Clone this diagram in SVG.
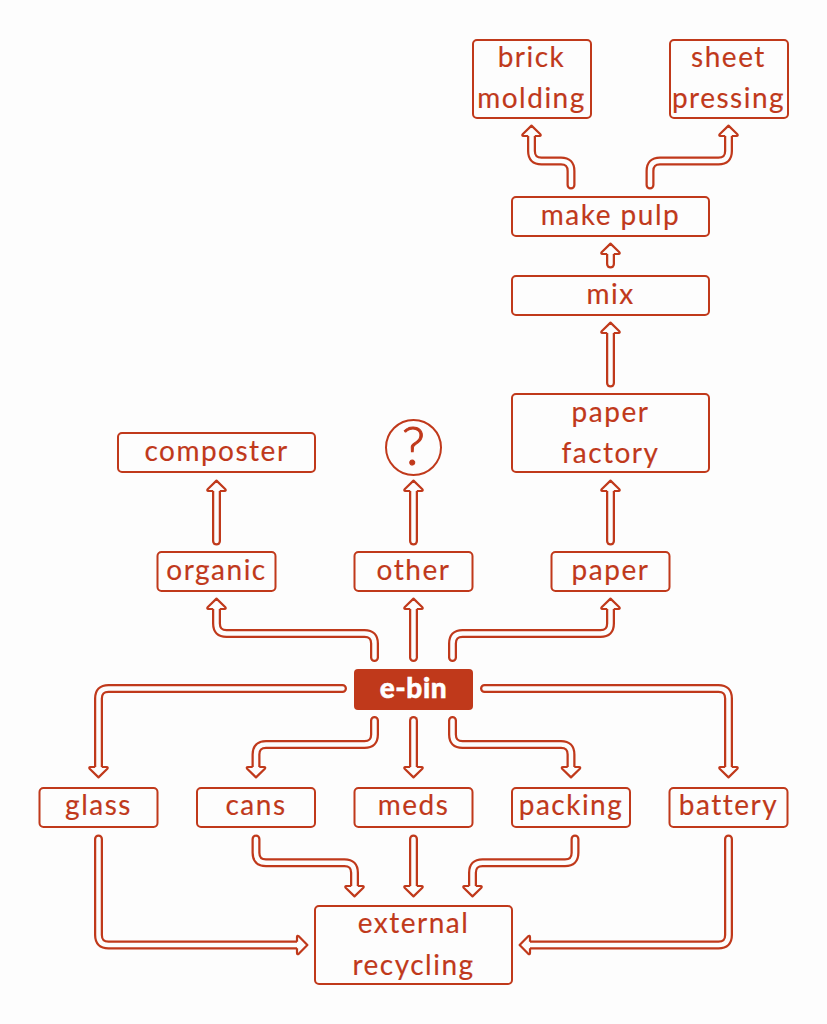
<svg xmlns="http://www.w3.org/2000/svg" width="827" height="1024" viewBox="0 0 827 1024">
<style>
.n{fill:none;stroke:#c0391b;stroke-width:2}
.t{font-family:"Lato","Noto Sans",sans-serif;font-size:28px;letter-spacing:1.5px;fill:#c0391b;stroke:#c0391b;stroke-width:.15px;text-anchor:middle}
.o,.i{fill:none;stroke-linecap:round;stroke-linejoin:round}
.o{stroke:#c0391b;stroke-width:9}
.i{stroke:#fdfdfd;stroke-width:4.5;marker-end:url(#h)}
</style>
<defs>
<marker id="h" markerUnits="userSpaceOnUse" markerWidth="30" markerHeight="30" refX="4" refY="15" orient="auto" overflow="visible">
<path d="M4,11.7 L4,7 Q4,4.9 6,6.4 L14.4,15 L6,23.6 Q4,25.1 4,23 L4,18.3" fill="#fdfdfd" stroke="#c0391b" stroke-width="2.2" stroke-linejoin="round"/>
</marker>
</defs>
<rect width="827" height="1024" fill="#fdfdfd"/>
<g id="connectors">
<path class="o" d="M571,185V171Q571,161 561,161H541.500Q531.500,161 531.500,151V136"/><path class="i" d="M571,185V171Q571,161 561,161H541.500Q531.500,161 531.500,151V136"/>
<path class="o" d="M650,185V171Q650,161 660,161H718.500Q728.500,161 728.500,151V136"/><path class="i" d="M650,185V171Q650,161 660,161H718.500Q728.500,161 728.500,151V136"/>
<path class="o" d="M610.500,264V254"/><path class="i" d="M610.500,264V254"/>
<path class="o" d="M610.500,383V333"/><path class="i" d="M610.500,383V333"/>
<path class="o" d="M610.500,541V491"/><path class="i" d="M610.500,541V491"/>
<path class="o" d="M216.500,541V491"/><path class="i" d="M216.500,541V491"/>
<path class="o" d="M413.500,541V491"/><path class="i" d="M413.500,541V491"/>
<path class="o" d="M374.500,657.500V643.500Q374.500,633.500 364.500,633.500H226.500Q216.500,633.500 216.500,623.500V609"/><path class="i" d="M374.500,657.500V643.500Q374.500,633.500 364.500,633.500H226.500Q216.500,633.500 216.500,623.500V609"/>
<path class="o" d="M413.500,657.500V609"/><path class="i" d="M413.500,657.500V609"/>
<path class="o" d="M452.500,657.500V643.500Q452.500,633.500 462.500,633.500H600.500Q610.500,633.500 610.500,623.500V609"/><path class="i" d="M452.500,657.500V643.500Q452.500,633.500 462.500,633.500H600.500Q610.500,633.500 610.500,623.500V609"/>
<path class="o" d="M342.500,688.500H108.500Q98.500,688.500 98.500,698.500V767"/><path class="i" d="M342.500,688.500H108.500Q98.500,688.500 98.500,698.500V767"/>
<path class="o" d="M484.500,688.500H718.500Q728.500,688.500 728.500,698.500V767"/><path class="i" d="M484.500,688.500H718.500Q728.500,688.500 728.500,698.500V767"/>
<path class="o" d="M374.500,720.500V734.500Q374.500,744.500 364.500,744.500H266Q256,744.500 256,754.500V767"/><path class="i" d="M374.500,720.500V734.500Q374.500,744.500 364.500,744.500H266Q256,744.500 256,754.500V767"/>
<path class="o" d="M413.500,720.500V767"/><path class="i" d="M413.500,720.500V767"/>
<path class="o" d="M452.500,720.500V734.500Q452.500,744.500 462.500,744.500H561Q571,744.500 571,754.500V767"/><path class="i" d="M452.500,720.500V734.500Q452.500,744.500 462.500,744.500H561Q571,744.500 571,754.500V767"/>
<path class="o" d="M98.500,839V935Q98.500,945 108.500,945H297"/><path class="i" d="M98.500,839V935Q98.500,945 108.500,945H297"/>
<path class="o" d="M256,839V852.700Q256,862.700 266,862.700H344.500Q354.500,862.700 354.500,872.700V886"/><path class="i" d="M256,839V852.700Q256,862.700 266,862.700H344.500Q354.500,862.700 354.500,872.700V886"/>
<path class="o" d="M413.500,839V886"/><path class="i" d="M413.500,839V886"/>
<path class="o" d="M575,839V852.700Q575,862.700 565,862.700H482.500Q472.500,862.700 472.500,872.700V886"/><path class="i" d="M575,839V852.700Q575,862.700 565,862.700H482.500Q472.500,862.700 472.500,872.700V886"/>
<path class="o" d="M728.500,839V935Q728.500,945 718.500,945H530"/><path class="i" d="M728.500,839V935Q728.500,945 718.500,945H530"/>
</g>
<g id="brick"><rect class="n" x="473" y="40" width="118" height="78" rx="4"/><text class="t" x="531.500" y="67">brick</text><text class="t" x="531.500" y="108">molding</text></g>
<g id="sheet"><rect class="n" x="670" y="40" width="118" height="78" rx="4"/><text class="t" x="728.500" y="67">sheet</text><text class="t" x="728.500" y="108">pressing</text></g>
<g id="pulp"><rect class="n" x="512" y="197" width="197" height="39" rx="4"/><text class="t" x="610.500" y="225">make pulp</text></g>
<g id="mix"><rect class="n" x="512" y="276" width="197" height="39" rx="4"/><text class="t" x="610.500" y="304">mix</text></g>
<g id="factory"><rect class="n" x="512" y="394" width="197" height="78" rx="4"/><text class="t" x="610.500" y="422">paper</text><text class="t" x="610.500" y="463">factory</text></g>
<g id="composter"><rect class="n" x="118" y="433" width="197" height="39" rx="4"/><text class="t" x="216.500" y="461">composter</text></g>
<g id="unknown"><circle class="n" cx="413.500" cy="447.500" r="27.500"/><text class="t" x="413.500" y="465" style="font-size:54px;font-weight:300;stroke-width:1px;letter-spacing:0">?</text></g>
<g id="organic"><rect class="n" x="157.500" y="552" width="118" height="39" rx="4"/><text class="t" x="216.500" y="580">organic</text></g>
<g id="other"><rect class="n" x="354.500" y="552" width="118" height="39" rx="4"/><text class="t" x="413.500" y="580">other</text></g>
<g id="paper"><rect class="n" x="551.500" y="552" width="118" height="39" rx="4"/><text class="t" x="610.500" y="580">paper</text></g>
<g id="ebin"><rect x="354" y="669" width="119" height="41" rx="4" fill="#c0391b"/><text class="t" x="413.500" y="698" style="fill:#fff;stroke:#fff;stroke-width:.5px;font-weight:900;letter-spacing:.6px">e-bin</text></g>
<g id="glass"><rect class="n" x="39.500" y="788" width="118" height="39" rx="4"/><text class="t" x="98.500" y="815">glass</text></g>
<g id="cans"><rect class="n" x="197" y="788" width="118" height="39" rx="4"/><text class="t" x="256" y="815">cans</text></g>
<g id="meds"><rect class="n" x="354.500" y="788" width="118" height="39" rx="4"/><text class="t" x="413.500" y="815">meds</text></g>
<g id="packing"><rect class="n" x="512" y="788" width="118" height="39" rx="4"/><text class="t" x="571" y="815">packing</text></g>
<g id="battery"><rect class="n" x="669.500" y="788" width="118" height="39" rx="4"/><text class="t" x="728.500" y="815">battery</text></g>
<g id="external"><rect class="n" x="315" y="906" width="197" height="78" rx="4"/><text class="t" x="413.500" y="933">external</text><text class="t" x="413.500" y="975">recycling</text></g>
</svg>
